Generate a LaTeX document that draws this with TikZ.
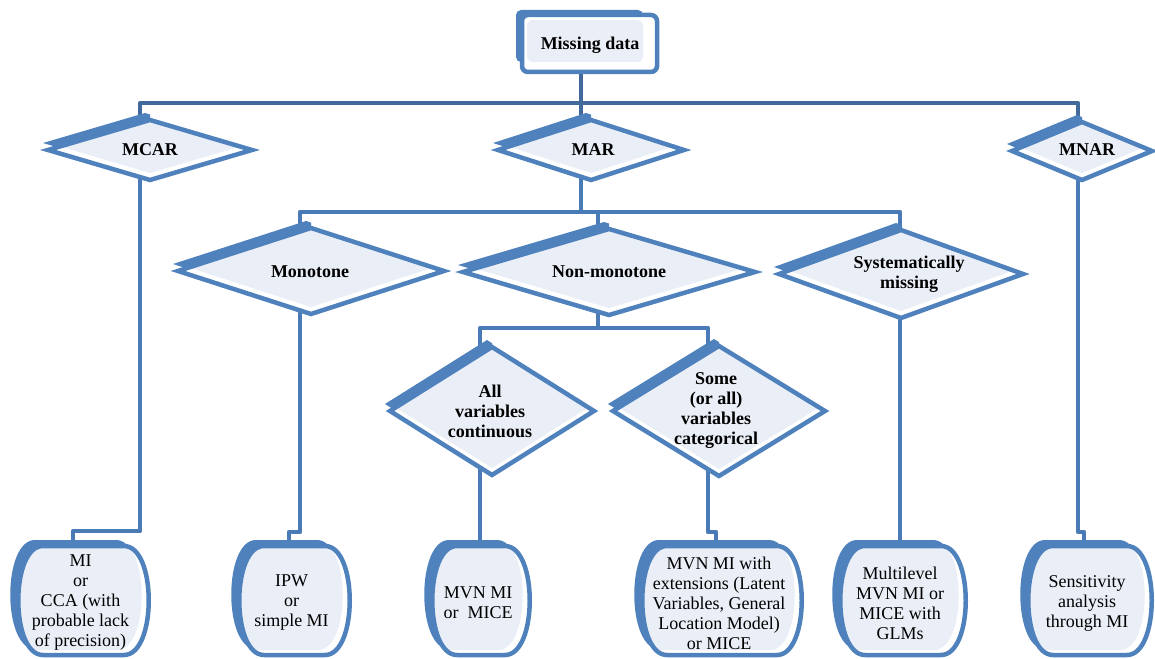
\documentclass[tikz,border=0pt]{standalone}
\usepackage{fontspec}
\setmainfont{Liberation Serif}
\usetikzlibrary{shapes.geometric,calc,backgrounds}
\definecolor{bord}{HTML}{4F81BD}
\definecolor{lite}{HTML}{EAEFF7}
\definecolor{busc}{HTML}{41699B}
\definecolor{vconn}{HTML}{4A7BB7}
\tikzset{
  lbl/.style={font=\fontsize{18}{20}\selectfont\bfseries, align=center, inner sep=0pt},
  txt/.style={font=\fontsize{18}{20}\selectfont, align=center, inner sep=0pt},
  dia/.style={shape=diamond, inner sep=0pt, outer sep=0pt, draw=bord, line width=4.5pt, fill=white,
    path picture={\fill[lite] ([yshift=7pt]path picture bounding box.west) -- ([yshift=7pt]path picture bounding box.north) -- ([yshift=7pt]path picture bounding box.east) -- ([yshift=7pt]path picture bounding box.south) -- cycle;}},
  mdbox/.style={draw=bord, line width=4.5pt, fill=white, rounded corners=6pt, inner sep=0pt, outer sep=0pt,
    minimum width=135pt, minimum height=57pt,
    path picture={\fill[lite] ([shift={(5pt,-5pt)}]path picture bounding box.north west) rectangle ([shift={(-14pt,10pt)}]path picture bounding box.south east);}},
  busline/.style={draw=busc, line width=4pt, line join=round},
  vline/.style={draw=vconn, line width=4.5pt, line join=round},
}
% diamond: name, x, y, w, h, label x, label y, label
\newcommand\mkdia[8]{%
  \begin{scope}
    \clip (#2-#4/2-40, #3-#5/2-40) rectangle (#2, #3+#5/2);
    \fill[bord] (#2-#4/2-5, #3-7) -- (#2-5, #3-#5/2-7) -- (#2+#4/2-5, #3-7) -- (#2-5, #3+#5/2-7) -- cycle;
  \end{scope}
  \node[dia, minimum width=#4pt, minimum height=#5pt] (#1) at (#2,#3) {};
  \node[lbl] (#1-t) at (#6,#7) {#8};
}
% barrel path: command, cx, half width, top, bottom
\newcommand\barp[5]{#1 (#2-#3+25, #4) -- (#2+#3-25, #4) .. controls (#2+#3+8, #4) and (#2+#3+8, #5) .. (#2+#3-25, #5) -- (#2-#3+25, #5) .. controls (#2-#3-8, #5) and (#2-#3-8, #4) .. (#2-#3+25, #4) -- cycle;}
% barrel node: name, cx, half width, text
\newcommand\mkbar[4]{%
  \barp{\fill[bord]}{#2-8}{#3}{540}{649}
  \barp{\fill[white]}{#2}{#3}{546}{655}
  \begin{scope}
    \barp{\clip}{#2}{#3}{546}{655}
    \barp{\fill[lite]}{#2-7}{#3}{541}{650}
  \end{scope}
  \barp{\draw[bord, line width=4.5pt]}{#2}{#3}{546}{655}
  \node[txt, minimum width=2*#3pt-30pt, minimum height=109pt] (#1) at (#2-3,603) {#4};
}
\begin{document}
\begin{tikzpicture}[x=1pt,y=-1pt]
\useasboundingbox (0,0) rectangle (1155,658);
% top box
\fill[bord, rounded corners=5pt] (516,10) rectangle (643,62);
\node[mdbox] (md) at (589.5,43.5) {};
\node[lbl] (md-t) at (590,45) {Missing data};
% diamonds
\mkdia{mcar}{150}{150}{204}{60}{150}{150}{MCAR}
\mkdia{mar}{591}{150}{186}{60}{593}{150}{MAR}
\mkdia{mnar}{1082}{151}{140}{58}{1087}{150}{MNAR}
\mkdia{mono}{311}{271}{266}{86}{310}{272}{Monotone}
\mkdia{nonmono}{609}{272}{292}{86}{609}{272}{Non-monotone}
\mkdia{sysm}{901}{274}{244}{88}{909}{274}{Systematically\\missing}
\mkdia{allv}{492}{411}{204}{128}{490}{411}{All\\variables\\continuous}
\mkdia{somev}{719}{411}{212}{130}{716}{411}{Some\\(or all)\\variables\\categorical}
% bottom nodes
\mkbar{r1}{83.5}{65.5}{MI\\or\\CCA (with\\probable lack\\of precision)}
\mkbar{r2}{294.5}{55.5}{IPW\\or\\simple MI}
\mkbar{r3}{481}{49}{MVN MI\\or~~MICE}
\mkbar{r4}{722}{80}{MVN MI with\\extensions (Latent\\Variables, General\\Location Model)\\or MICE}
\mkbar{r5}{903}{63}{Multilevel\\MVN MI or\\MICE with\\GLMs}
\mkbar{r6}{1090}{62}{Sensitivity\\analysis\\through MI}
% connectors
\begin{pgfonlayer}{background}
  \coordinate (b1L) at (140,103);
  \coordinate (b1M) at (581,103);
  \coordinate (b1R) at (1078,103);
  \draw[busline] (b1L |- mcar.center) -- (b1L) -- (b1R) -- (b1R |- mnar.center);
  \draw[busline] (b1M |- md.center) -- (b1M |- mar.center);
  \coordinate (b2L) at (300,212);
  \coordinate (b2N) at (598,212);
  \coordinate (b2R) at (900,212);
  \draw[vline] (b1M |- mar.center) -- (b1M |- b2L);
  \draw[vline] (b2L |- mono.center) -- (b2L) -- (b2R) -- (b2R |- sysm.center);
  \draw[vline] (b2N) -- (b2N |- nonmono.center);
  \coordinate (b3L) at (480,328);
  \coordinate (b3R) at (708,328);
  \draw[vline] (b2N |- nonmono.center) -- (b2N |- b3L);
  \draw[vline] (b3L |- allv.center) -- (b3L) -- (b3R) -- (b3R |- somev.center);
  \coordinate (j1) at (73,531);
  \draw[vline] (b1L |- mcar.center) |- (j1) -- (j1 |- r1.north);
  \coordinate (j2) at (289,532);
  \draw[vline] (b2L |- mono.center) |- (j2) -- (j2 |- r2.north);
  \draw[vline] (b3L |- allv.center) -- (b3L |- r3.north);
  \coordinate (j4) at (716,532);
  \draw[vline] (b3R |- somev.center) |- (j4) -- (j4 |- r4.north);
  \draw[vline] (b2R |- sysm.center) -- (b2R |- r5.north);
  \coordinate (j6) at (1084,532);
  \draw[vline] (b1R |- mnar.center) |- (j6) -- (j6 |- r6.north);
\end{pgfonlayer}
\end{tikzpicture}
\end{document}
